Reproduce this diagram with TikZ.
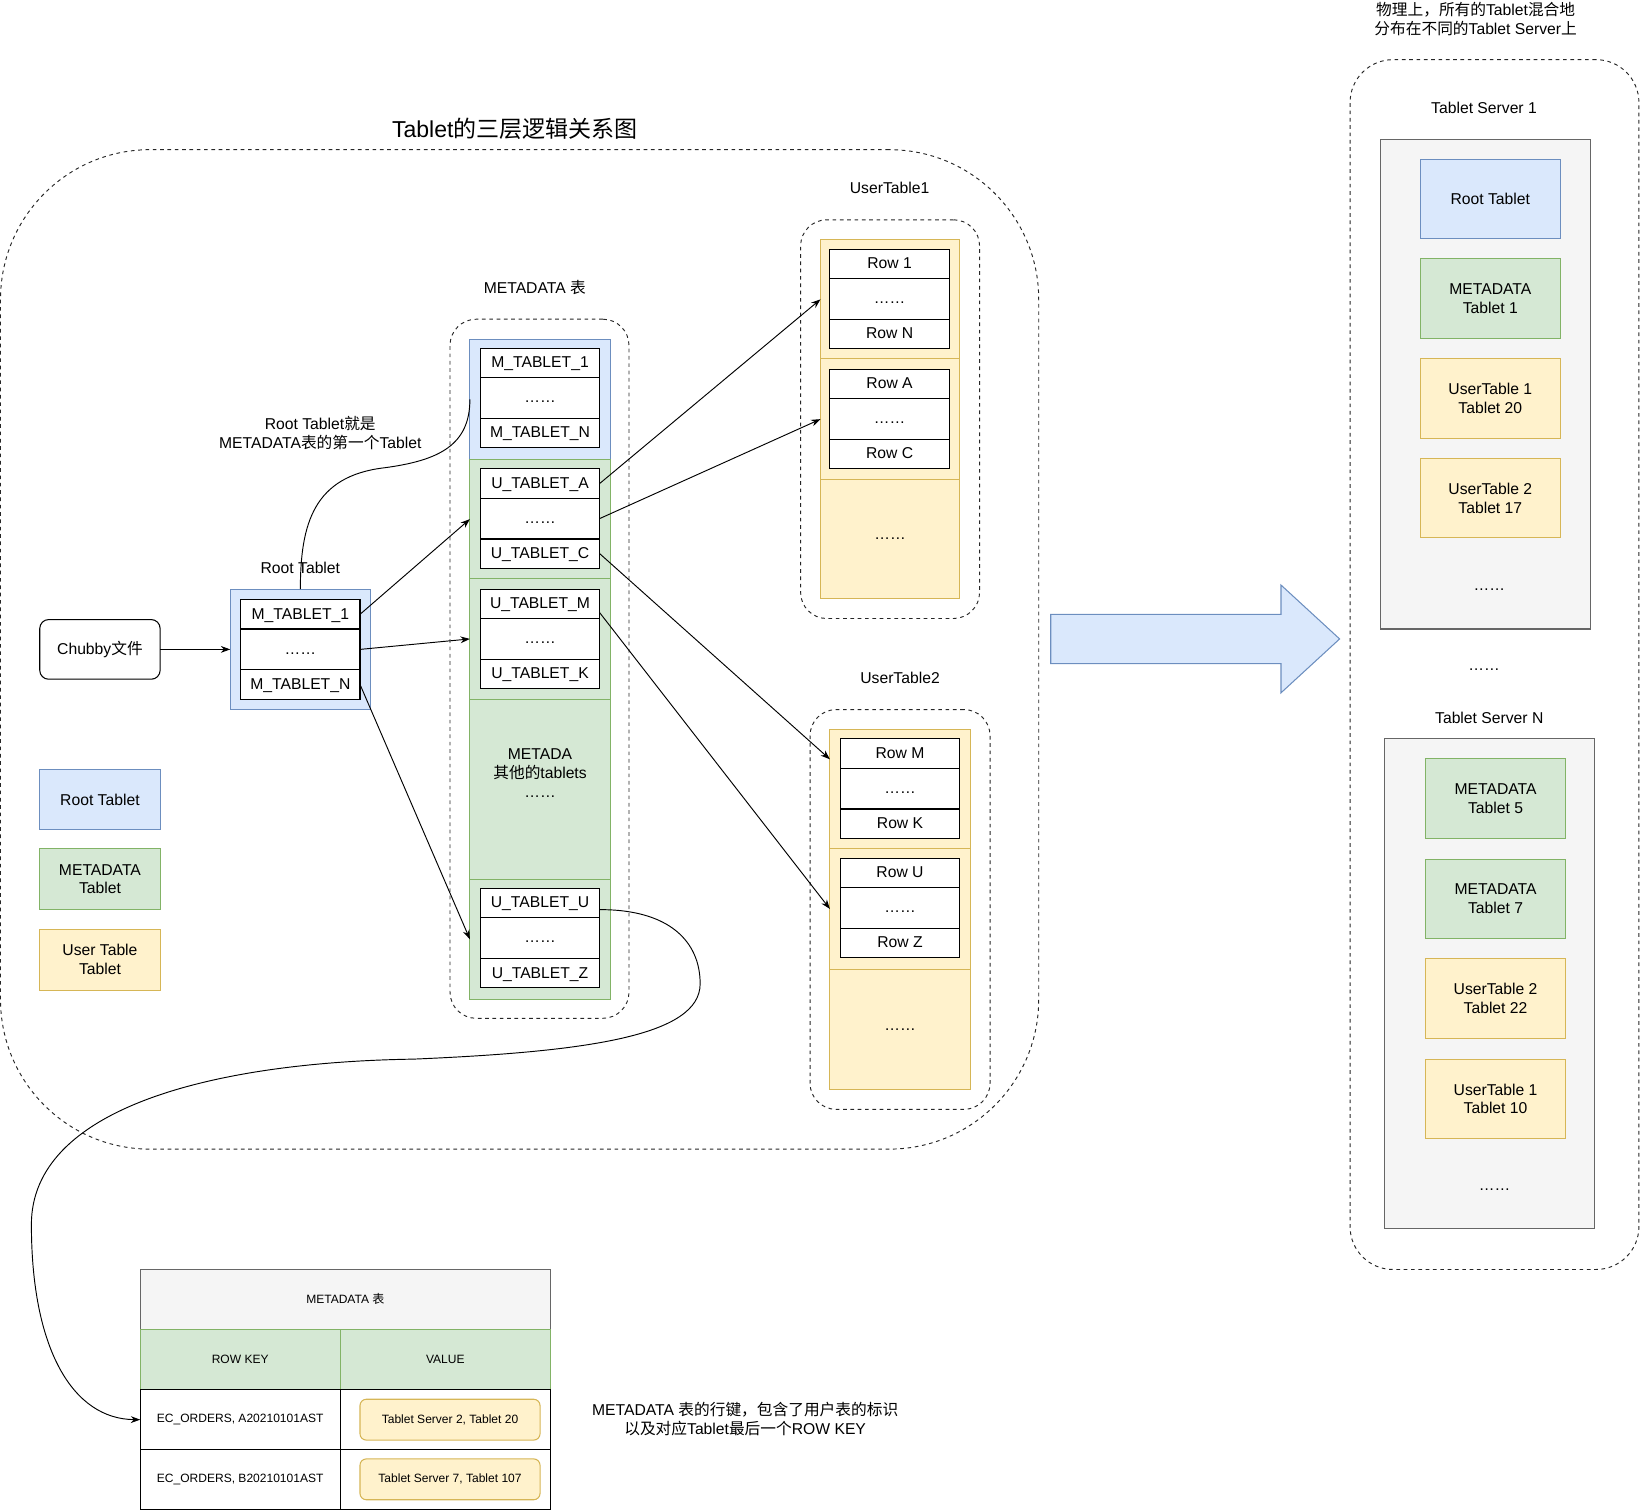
\documentclass[tikz,border=0pt]{standalone}
\usepackage{fontspec}
\setmainfont{Liberation Sans}
\newfontfamily\cjk{Noto Sans CJK SC}
\usetikzlibrary{arrows.meta,calc}
\definecolor{bluefill}{HTML}{DAE8FC}
\definecolor{bluestroke}{HTML}{6C8EBF}
\definecolor{greenfill}{HTML}{D5E8D4}
\definecolor{greenstroke}{HTML}{82B366}
\definecolor{yellowfill}{HTML}{FFF2CC}
\definecolor{yellowstroke}{HTML}{D6B656}
\definecolor{grayfill}{HTML}{F5F5F5}
\definecolor{graystroke}{HTML}{666666}
\newcommand\Fa{\fontsize{15}{18}\selectfont}
\newcommand\Fb{\fontsize{11.5}{14}\selectfont}
\newcommand\Ft{\fontsize{22}{26}\selectfont}
\begin{document}
\begin{tikzpicture}[x=1pt,y=-1pt,line width=1pt,
  every node/.style={inner sep=0pt,outer sep=0pt},
  lbl/.style={font=\Fa,align=center},
  box/.style 2 args={anchor=north west,minimum width=#1,minimum height=#2},
  bluebox/.style={draw=bluestroke,fill=bluefill},
  greenbox/.style={draw=greenstroke,fill=greenfill},
  yellowbox/.style={draw=yellowstroke,fill=yellowfill},
  graybox/.style={draw=graystroke,fill=grayfill},
  cell/.style={draw=black,fill=white,font=\Fa,text height=9pt,text depth=0pt},
  tcell/.style={font=\Fa,align=center},
  dashbox/.style={draw=black!85,dash pattern=on 3.5pt off 3.5pt,line width=0.9pt},
  arr/.style={-{Stealth[length=9pt,width=6.5pt]},line width=0.9pt},
  conn/.style={line width=0.9pt}]
\useasboundingbox (0,0) rectangle (1568,1443);

% ===== big logical container =====
\node[dashbox,box={992}{955},rounded corners=143] (main) at (0.5,143) {};
\node[font=\Ft] (title) at (492,123) {Tablet{\cjk 的三层逻辑关系图}};

% ===== METADATA table =====
\node[lbl] (mdlabel) at (511,275) {METADATA {\cjk 表}};
\node[dashbox,box={171}{668},rounded corners=25] (mdc) at (430,305) {};
\node[bluebox,box={134}{115}] (mb) at (449,324) {};
\node[cell,box={114}{28}] (m1) at (459,333) {M\_TABLET\_1};
\node[cell,box={114}{39}] (m2) at (459,361) {……};
\node[cell,box={114}{28}] (m3) at (459,400) {M\_TABLET\_N};

\node[greenbox,box={134}{114}] (g1) at (449,439) {};
\node[cell,box={114}{28}] (ua) at (459,448) {U\_TABLET\_A};
\node[cell,box={114}{39}] (ud1) at (459,476) {……};
\node[cell,box={114}{28}] (uc) at (459,515) {U\_TABLET\_C};

\node[greenbox,box={134}{115}] (g2) at (449,553) {};
\node[cell,box={114}{28}] (um) at (459,563) {U\_TABLET\_M};
\node[cell,box={114}{39}] (ud2) at (459,591) {……};
\node[cell,box={114}{28}] (uk) at (459,630) {U\_TABLET\_K};

\node[greenbox,box={134}{172}] (g3) at (449,668) {};
\node[lbl] (g3text) at (516,739) {METADA\\{\cjk 其他的}tablets\\……};

\node[greenbox,box={134}{115}] (g4) at (449,840) {};
\node[cell,box={114}{28}] (uu) at (459,849) {U\_TABLET\_U};
\node[cell,box={114}{39}] (ud4) at (459,877) {……};
\node[cell,box={114}{28}] (uz) at (459,916) {U\_TABLET\_Z};

% ===== Root tablet =====
\node[lbl] (rlabel) at (287,543) {Root Tablet};
\node[bluebox,box={134}{115}] (rb) at (220,563) {};
\node[cell,box={114}{28}] (rm1) at (230,573) {M\_TABLET\_1};
\node[cell,box={114}{39}] (rd) at (230,601) {……};
\node[cell,box={114}{28}] (rmn) at (230,640) {M\_TABLET\_N};

\node[draw=black,fill=white,rounded corners=8.5,box={115}{57},font=\Fa] (chubby) at (38,592) {Chubby{\cjk 文件}};

\node[lbl] (note1) at (306,414) {Root Tablet{\cjk 就是}\\METADATA{\cjk 表的第一个}Tablet};

% ===== legend =====
\node[bluebox,box={115}{58},tcell] (lg1) at (38,735) {Root Tablet};
\node[greenbox,box={115}{58},tcell] (lg2) at (38,811) {METADATA\\Tablet};
\node[yellowbox,box={115}{58},tcell] (lg3) at (38,888) {User Table\\Tablet};

% ===== UserTable1 =====
\node[lbl] (ut1label) at (850,180) {UserTable1};
\node[dashbox,box={171}{381},rounded corners=25] (ut1c) at (765,210) {};
\node[yellowbox,box={133}{114}] (y1a) at (784,229) {};
\node[yellowbox,box={133}{115}] (y1b) at (784,343) {};
\node[yellowbox,box={133}{114},font=\Fa] (y1c) at (784,458) {……};
\node[cell,box={114}{28}] (r1) at (793,238) {Row 1};
\node[cell,box={114}{39}] (r1d) at (793,266) {……};
\node[cell,box={114}{28}] (rN) at (793,305) {Row N};
\node[cell,box={114}{28}] (rA) at (793,353) {Row A};
\node[cell,box={114}{39}] (rAd) at (793,381) {……};
\node[cell,box={114}{28}] (rC) at (793,420) {Row C};

% ===== UserTable2 =====
\node[lbl] (ut2label) at (860,648) {UserTable2};
\node[dashbox,box={172}{382},rounded corners=25] (ut2c) at (774,678) {};
\node[yellowbox,box={134}{114}] (y2a) at (793,697) {};
\node[yellowbox,box={134}{115}] (y2b) at (793,811) {};
\node[yellowbox,box={134}{115},font=\Fa] (y2c) at (793,926) {……};
\node[cell,box={114}{28}] (rM) at (803,706) {Row M};
\node[cell,box={114}{39}] (rMd) at (803,734) {……};
\node[cell,box={114}{28}] (rK) at (803,773) {Row K};
\node[cell,box={114}{28}] (rU) at (803,820) {Row U};
\node[cell,box={114}{39}] (rUd) at (803,848) {……};
\node[cell,box={114}{28}] (rZ) at (803,887) {Row Z};

% ===== physical distribution =====
\node[lbl] (phys) at (1410,18) {{\cjk 物理上，所有的}Tablet{\cjk 混合地}\\{\cjk 分布在不同的}Tablet Server{\cjk 上}};
\node[dashbox,box={276}{1156},rounded corners=41] (rc) at (1290,57) {};
\node[lbl] (s1label) at (1418,103) {Tablet Server 1};
\node[graybox,box={201}{468}] (s1) at (1319,133) {};
\node[bluebox,box={134}{76},tcell] (s1a) at (1357,152) {Root Tablet};
\node[greenbox,box={134}{76},tcell] (s1b) at (1357,247) {METADATA\\Tablet 1};
\node[yellowbox,box={134}{76},tcell] (s1c) at (1357,343) {UserTable 1\\Tablet 20};
\node[yellowbox,box={134}{76},tcell] (s1d) at (1357,438) {UserTable 2\\Tablet 17};
\node[lbl] (s1dots) at (1423,563) {……};
\node[lbl] (sdots) at (1418,640) {……};
\node[lbl] (sNlabel) at (1423,686) {Tablet Server N};
\node[graybox,box={201}{468}] (sN) at (1323,706) {};
\node[greenbox,box={134}{76},tcell] (sNa) at (1362,725) {METADATA\\Tablet 5};
\node[greenbox,box={134}{76},tcell] (sNb) at (1362,821) {METADATA\\Tablet 7};
\node[yellowbox,box={134}{76},tcell] (sNc) at (1362,916) {UserTable 2\\Tablet 22};
\node[yellowbox,box={134}{76},tcell] (sNd) at (1362,1012) {UserTable 1\\Tablet 10};
\node[lbl] (sNdots) at (1428,1137) {……};

% big block arrow
\draw[draw=bluestroke,fill=bluefill] (1004,587) -- (1224,587) -- (1224,559) -- (1280,610.5)
  -- (1224,662) -- (1224,634) -- (1004,634) -- cycle;

% ===== bottom METADATA table =====
\node[graybox,box={392}{57},font=\Fb] (tt) at (134,1213) {METADATA {\cjk 表}};
\node[greenbox,box={191}{58},font=\Fb] (hk) at (134,1270) {ROW KEY};
\node[greenbox,box={201}{58},font=\Fb] (hv) at (325,1270) {VALUE};
\node[draw=black,fill=white,box={191}{57},font=\Fb] (k1) at (134,1328) {EC\_ORDERS, A20210101AST};
\node[draw=black,fill=white,box={201}{57}] (v1) at (325,1328) {};
\node[yellowbox,rounded corners=6,box={172}{39},font=\Fb] (v1b) at (344,1337) {Tablet Server 2, Tablet 20};
\node[draw=black,fill=white,box={191}{57},font=\Fb] (k2) at (134,1385) {EC\_ORDERS, B20210101AST};
\node[draw=black,fill=white,box={201}{57}] (v2) at (325,1385) {};
\node[yellowbox,rounded corners=6,box={172}{39},font=\Fb] (v2b) at (344,1394) {Tablet Server 7, Tablet 107};

\node[lbl] (note2) at (712,1356) {METADATA {\cjk 表的行键，包含了用户表的标识}\\{\cjk 以及对应}Tablet{\cjk 最后一个}ROW KEY};

% ===== connectors =====
\draw[arr] (chubby.east) -- (rb.west);
\draw[arr] (rm1.east) -- (g1.west);
\draw[arr] (rd.east) -- (g2.west);
\draw[arr] (rmn.east) -- (g4.west);
\draw[arr] (ua.east) -- (y1a.west);
\draw[arr] (ud1.east) -- (y1b.west);
\draw[arr] (uc.east) -- ($(y2a.north west)!0.25!(y2a.south west)$);
\draw[arr] ($(um.north east)!0.8!(um.south east)$) -- (y2b.west);
\draw[conn] (rb.north) .. controls (287,500) and (300,455) .. (367,447)
  .. controls (420,440) and (449,425) .. (mb.west);
\draw[arr] ($(uu.north east)!0.72!(uu.south east)$) .. controls (640,869) and (669,900) .. (669,940)
  .. controls (669,990) and (560,1005) .. (395,1012)
  .. controls (200,1015) and (30,1060) .. (30,1170)
  .. controls (30,1290) and (70,1356) .. (k1.west);
\end{tikzpicture}
\end{document}
